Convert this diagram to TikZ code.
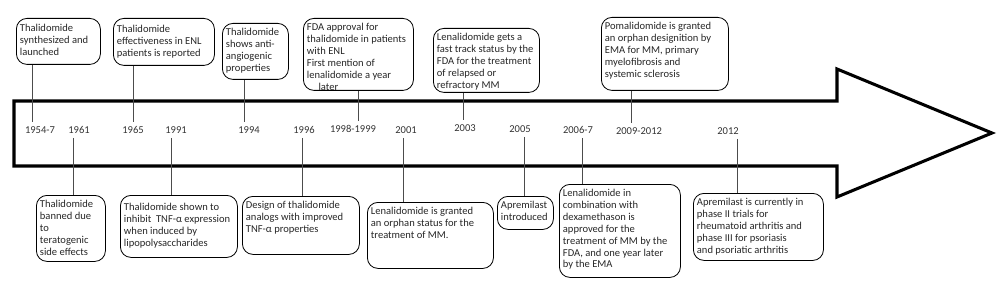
\documentclass[tikz,border=0pt]{standalone}
\usepackage{fontspec}
\setmainfont{Carlito}

\newlength{\px}\setlength{\px}{0.03cm}
\newcommand{\evtext}[4][t]{\parbox[t][\dimexpr#3\px-6pt\relax][#1]{\dimexpr#2\px-6pt\relax}{\begin{tabular}[t]{@{}l@{}}#4\end{tabular}}}

\begin{document}
\begin{tikzpicture}[x=0.03cm,y=-0.03cm,
  event/.style={draw,rounded corners=9pt,line width=0.7pt,inner sep=3pt,anchor=north west,font=\fontsize{9}{10.2}\selectfont,text=black!85},
  year/.style={inner sep=3.5pt,font=\fontsize{9}{10.8}\selectfont,text=black!80},
  link/.style={line width=0.6pt,black!70}]
  \useasboundingbox (0,0) rectangle (1000,284);
  % timeline arrow
  \draw[line width=2.6pt] (14,101) -- (837,101) -- (837,69) -- (992,133) -- (837,197) -- (837,166) -- (14,166) -- cycle;
  % years
  \foreach \n/\x/\y/\t in {54/40/130/1954-7,61/79/130/1961,65/133/130/1965,91/176/130/1991,94/249/130/1994,96/304/130/1996,98/353/129/1998-1999,01/406/130/2001,03/465/128/2003,05/520/129/2005,06/578/130/2006-7,09/639/131/2009-2012,12/728/131/2012}
    \node[year] (y\n) at (\x,\y) {\t};
  % events above
  \node[event] (e54) at (16,18) {\evtext[c]{84}{46}{Thalidomide\\synthesized and\\launched}};
  \node[event] (e65) at (113,18) {\evtext[c]{101}{47}{Thalidomide\\effectiveness in ENL\\patients is reported}};
  \node[event] (e94) at (222,23) {\evtext[c]{66}{56}{Thalidomide\\shows anti-\\angiogenic\\properties}};
  \node[event] (e98) at (303,18) {\evtext{110}{72}{FDA approval for\\thalidomide in patients\\with ENL\\First mention of\\lenalidomide a year\\\hspace{1.1em}later}};
  \node[event] (e03) at (433,28) {\evtext{106}{64}{Lenalidomide gets a\\fast track status by the\\FDA for the treatment\\of relapsed or\\refractory MM}};
  \node[event] (e09) at (601,17) {\evtext{127}{73}{Pomalidomide is granted\\an orphan designition by\\EMA for MM, primary\\myelofibrosis and\\systemic sclerosis}};
  % events below
  \node[event] (e61) at (36,195) {\evtext{69}{66}{Thalidomide\\banned due\\to\\teratogenic\\side effects}};
  \node[event] (e91) at (120,195) {\evtext[c]{117}{62}{Thalidomide shown to\\inhibit~ TNF-α expression\\when induced by\\lipopolysaccharides}};
  \node[event] (e96) at (242,196) {\evtext{117}{58}{Design of thalidomide\\analogs with improved\\TNF-α properties}};
  \node[event] (e01) at (367,202) {\evtext{126}{66}{Lenalidomide is granted\\an orphan status for the\\treatment of MM.}};
  \node[event] (e05) at (497,196) {\evtext{56}{33}{Apremilast\\introduced}};
  \node[event] (e06) at (559,184) {\evtext{121}{93}{Lenalidomide in\\combination with\\dexamethason is\\approved for the\\treatment of MM by the\\FDA, and one year later\\by the EMA}};
  \node[event] (e12) at (693,193) {\evtext{130}{67}{Apremilast is currently in\\phase II trials for\\rheumatoid arthritis and\\phase III for psoriasis\\and psoriatic arthritis}};
  % connectors
  \foreach \n/\cx in {54/32,65/133,94/244,98/358,03/463,09/631}
    \draw[link] (e\n.south -| \cx,0) -- (y\n.north -| \cx,0);
  \foreach \n/\cx in {61/73,91/171,96/302,01/403,05/524,06/582,12/737}
    \draw[link] (y\n.south -| \cx,0) -- (e\n.north -| \cx,0);
\end{tikzpicture}
\end{document}
